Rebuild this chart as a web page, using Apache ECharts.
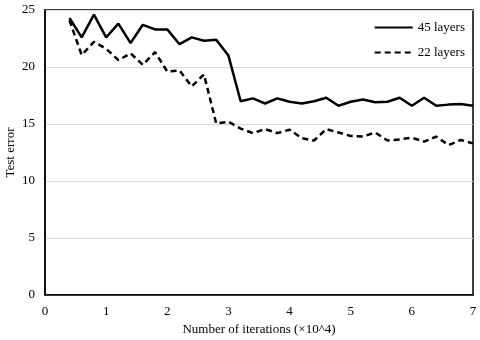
<!DOCTYPE html>
<html>
<head>
<meta charset="utf-8">
<script src="https://cdn.jsdelivr.net/npm/echarts@6/dist/echarts.min.js"></script>
<style>
  html, body { margin: 0; padding: 0; background: #fff; }
  #main { width: 480px; height: 340px; }
</style>
</head>
<body>
<div id="main"></div>
<script>
// iterations (x10^4)
var iterations = [0.4, 0.6, 0.8, 1.0, 1.2, 1.4, 1.6, 1.8, 2.0, 2.2, 2.4, 2.6, 2.8, 3.0, 3.2, 3.4, 3.6,
                  3.8, 4.0, 4.2, 4.4, 4.6, 4.8, 5.0, 5.2, 5.4, 5.6, 5.8, 6.0, 6.2, 6.4, 6.6, 6.8, 7.0];
var err45 = [24.3, 22.6, 24.6, 22.6, 23.8, 22.1, 23.7, 23.3, 23.3, 22.0, 22.6, 22.3, 22.4, 21.0, 17.0, 17.25, 16.8,
             17.25, 16.95, 16.8, 17.0, 17.3, 16.6, 16.95, 17.15, 16.9, 16.95, 17.3, 16.6, 17.3, 16.6, 16.7, 16.75, 16.6];
var err22 = [24.1, 21.05, 22.2, 21.6, 20.6, 21.2, 20.2, 21.3, 19.6, 19.7, 18.3, 19.35, 15.05, 15.2, 14.6, 14.2, 14.55,
             14.2, 14.5, 13.75, 13.55, 14.55, 14.25, 13.95, 13.9, 14.25, 13.55, 13.65, 13.8, 13.45, 13.9, 13.15, 13.6, 13.3];
var seriesNames = ['45 layers', '22 layers'];

function pairs(xs, ys) {
    return xs.map(function (x, i) { return [x, ys[i]]; });
}

var myChart = echarts.init(document.getElementById('main'));
var font = 'Liberation Serif';

var option = {
    animation: false,
    textStyle: { fontFamily: font },
    grid: {
        left: 45, right: 7, top: 10, bottom: 45,
        outerBoundsMode: 'none',
        containLabel: false,
        show: true, borderColor: '#000', borderWidth: 1.5
    },
    legend: {
        orient: 'vertical',
        right: 10,
        top: 16,
        itemWidth: 38,
        itemHeight: 12,
        itemGap: 12,
        itemStyle: { opacity: 0 },
        textStyle: { fontFamily: font, fontSize: 13, color: '#000' },
        data: seriesNames
    },
    xAxis: {
        type: 'value',
        min: 0, max: 7, interval: 1,
        name: 'Number of iterations (\u00d710^4)',
        nameLocation: 'middle',
        nameGap: 28,
        nameMoveOverlap: false,
        nameTextStyle: { fontFamily: font, fontSize: 13, color: '#000' },
        axisLine: { show: true, lineStyle: { color: '#000', width: 1.5 } },
        axisTick: { show: false },
        axisLabel: { fontFamily: font, fontSize: 13, color: '#000', margin: 10 },
        splitLine: { show: false }
    },
    yAxis: {
        type: 'value',
        min: 0, max: 25, interval: 5,
        name: 'Test error',
        nameLocation: 'middle',
        nameGap: 28,
        nameMoveOverlap: false,
        nameTextStyle: { fontFamily: font, fontSize: 13, color: '#000' },
        axisLine: { show: true, lineStyle: { color: '#000', width: 1.5 } },
        axisTick: { show: false },
        axisLabel: { fontFamily: font, fontSize: 13, color: '#000', margin: 10 },
        splitLine: { show: true, lineStyle: { color: '#d9d9d9', width: 1 } }
    },
    series: [
        {
            name: seriesNames[0],
            type: 'line',
            symbol: 'none',
            data: pairs(iterations, err45),
            lineStyle: { color: '#000', width: 2.5, type: 'solid' },
            itemStyle: { color: '#000' }
        },
        {
            name: seriesNames[1],
            type: 'line',
            symbol: 'none',
            data: pairs(iterations, err22),
            lineStyle: { color: '#000', width: 2.5, type: [6, 4] },
            itemStyle: { color: '#000' }
        }
    ]
};

myChart.setOption(option);
</script>
</body>
</html>
